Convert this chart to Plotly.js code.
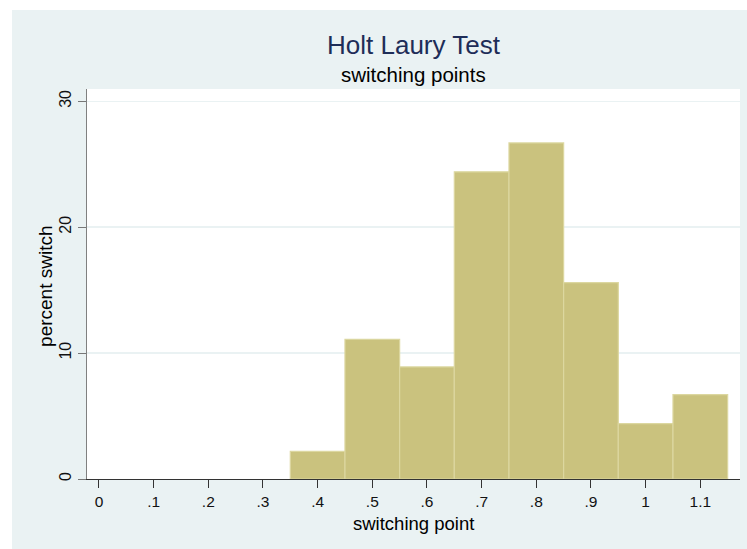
<!DOCTYPE html>
<html>
<head>
<meta charset="utf-8">
<script src="https://cdn.plot.ly/plotly-3.0.1.min.js"></script>
<style>
  html, body { margin: 0; padding: 0; background: #ffffff; width: 747px; height: 549px; overflow: hidden; }
  #chart { position: absolute; left: 12px; top: 10px; width: 735px; height: 539px; }
</style>
</head>
<body>
<div id="chart"></div>
<script>
// Histogram bins (centres, width 0.1) and percent of subjects switching
const binCenters = [0.4, 0.5, 0.6, 0.7, 0.8, 0.9, 1.0, 1.1];
const percentSwitch = [2.2, 11.1, 8.9, 24.4, 26.7, 15.6, 4.4, 6.7];
const xTickVals = [0, 0.1, 0.2, 0.3, 0.4, 0.5, 0.6, 0.7, 0.8, 0.9, 1.0, 1.1];
const xTickText = ['0', '.1', '.2', '.3', '.4', '.5', '.6', '.7', '.8', '.9', '1', '1.1'];
const yTickVals = [0, 10, 20, 30];
const yTickText = ['0', '10', '20', '30'];

const FONT = 'Liberation Sans, Arial, Helvetica, sans-serif';

const trace = {
  type: 'bar',
  x: binCenters,
  y: percentSwitch,
  width: 0.1,
  marker: { color: '#cac27e', line: { color: '#dcd7a0', width: 1.2 } },
  hoverinfo: 'x+y'
};

const layout = {
  width: 735,
  height: 539,
  margin: { l: 75, r: 7, t: 79, b: 70 },
  paper_bgcolor: '#eaf2f3',
  plot_bgcolor: '#ffffff',
  showlegend: false,
  bargap: 0,
  font: { family: FONT, color: '#000000', size: 14 },
  xaxis: {
    range: [-0.0219, 1.1726],
    tickmode: 'array',
    tickvals: xTickVals,
    ticktext: xTickText,
    ticks: 'outside',
    ticklen: 8,
    tickwidth: 1,
    tickcolor: '#333333',
    showline: true,
    linecolor: '#333333',
    linewidth: 1.3,
    showgrid: false,
    zeroline: false,
    tickfont: { family: FONT, size: 15.5, color: '#111111' },
    fixedrange: true
  },
  yaxis: {
    range: [0, 30.98],
    tickmode: 'array',
    tickvals: yTickVals,
    ticktext: yTickText,
    tickangle: -90,
    ticks: 'outside',
    ticklen: 8,
    tickwidth: 1,
    tickcolor: '#777777',
    showline: true,
    linecolor: '#808080',
    linewidth: 1.3,
    showgrid: true,
    gridcolor: '#eaf2f3',
    gridwidth: 1.5,
    zeroline: false,
    tickfont: { family: FONT, size: 16, color: '#111111' },
    fixedrange: true
  },
  annotations: [
    { text: 'Holt Laury Test', xref: 'paper', yref: 'paper', x: 0.5, y: 1.1136,
      xanchor: 'center', yanchor: 'middle', showarrow: false,
      font: { family: FONT, size: 26, color: '#1e2d58' } },
    { text: 'switching points', xref: 'paper', yref: 'paper', x: 0.5, y: 1.0367,
      xanchor: 'center', yanchor: 'middle', showarrow: false,
      font: { family: FONT, size: 20.5, color: '#000000' } },
    { text: 'switching point', xref: 'paper', yref: 'paper', x: 0.5, y: -0.113,
      xanchor: 'center', yanchor: 'middle', showarrow: false,
      font: { family: FONT, size: 18.5, color: '#000000' } },
    { text: 'percent switch', xref: 'paper', yref: 'paper', x: -0.0625, y: 0.493,
      xanchor: 'center', yanchor: 'middle', textangle: -90, showarrow: false,
      font: { family: FONT, size: 19, color: '#000000' } }
  ]
};

Plotly.newPlot('chart', [trace], layout, { displayModeBar: false, staticPlot: true });
</script>
</body>
</html>
